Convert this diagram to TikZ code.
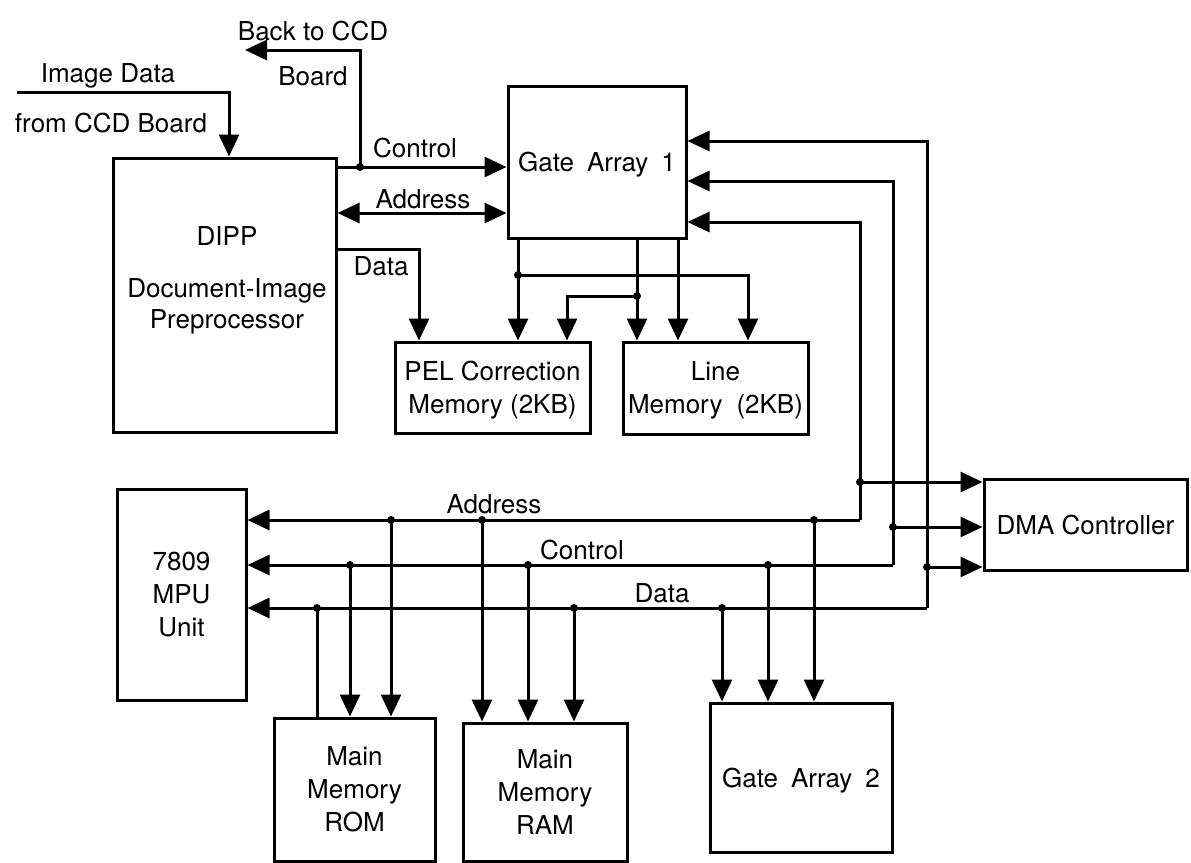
\documentclass[tikz,border=0pt]{standalone}
\usepackage{fontspec}
\setmainfont{TeX Gyre Heros}
\usetikzlibrary{arrows.meta,calc}

\newcommand\dgfont{\fontsize{13}{16.5}\selectfont}
\tikzset{
  blk/.style={draw, line width=1.5pt, inner sep=0pt, align=center, text depth=0pt},
  wire/.style={line width=1.5pt},
  arr/.style={wire, -{Triangle[length=11pt,width=10pt]}},
  darr/.style={wire, {Triangle[length=11pt,width=10pt]}-{Triangle[length=11pt,width=10pt]}},
  lbl/.style={anchor=base, inner sep=0pt},
}

\begin{document}
\begin{tikzpicture}[x=0.5pt, y=-0.5pt, font=\dgfont]
  \useasboundingbox (0,0) rectangle (1191,863);
  % Boxes
  \node[blk, minimum width=111.5pt, minimum height=137pt] (dipp) at (224.5,295) {};
  \node[align=center, font=\fontsize{13}{15.5}\selectfont] (dipptxt) at (227,280)
    {DIPP\\[10.5pt]Document-Image\\Preprocessor};
  \node[blk, minimum width=89pt, minimum height=76pt] (ga1) at (597,162) {Gate\enspace Array\enspace 1};
  \node[blk, minimum width=97.5pt, minimum height=45.5pt] (pel) at (492.5,387.5)
    {PEL Correction\\Memory (2KB)};
  \node[blk, minimum width=92.5pt, minimum height=46pt] (line) at (715.5,388) {Line\\Memory\hspace{7pt}(2KB)};
  \node[blk, minimum width=101.5pt, minimum height=45.5pt] (dma) at (1085.5,524.5) {DMA Controller};
  \node[blk, minimum width=64.5pt, minimum height=105.5pt] (mpu) at (181.5,594.5) {7809\\MPU\\Unit};
  \node[blk, minimum width=80.5pt, minimum height=71.5pt] (rom) at (354.5,789.5) {Main\\Memory\\ROM};
  \node[blk, minimum width=82pt, minimum height=69pt] (ram) at (545,792) {Main\\Memory\\RAM};
  \node[blk, minimum width=91pt, minimum height=74.5pt] (ga2) at (801,777.5) {Gate\enspace Array\enspace 2};
  % Labels
  \node[lbl] (backlbl) at (313,40) {Back to CCD};
  \node[lbl] (boardlbl) at (313,85) {Board};
  \node[lbl] (imglbl) at (108,82) {Image Data};
  \node[lbl] (fromlbl) at (111,132) {from CCD Board};
  \node[lbl] (ctllbl) at (415,157) {Control};
  \node[lbl] (adrlbl) at (423,208) {Address};
  \node[lbl] (datlbl) at (381,275) {Data};
  \node[lbl] (adrbuslbl) at (494,513) {Address};
  \node[lbl] (ctlbuslbl) at (582,559) {Control};
  \node[lbl] (datbuslbl) at (662,602) {Data};
  % DIPP links
  \coordinate (imgin) at (17,92);
  \draw[arr] (imgin) -| ($(dipp.north)+(4.5,0)$);
  \coordinate (ctlj) at (360,167);
  \coordinate (backtip) at (245,50);
  \draw[arr] (dipp.east |- ctlj) -- (ga1.west |- ctlj);
  \draw[arr] (ctlj) |- (backtip);
  \fill (ctlj) circle[radius=2pt];
  \coordinate (adrrow) at (0,213);
  \draw[darr] (dipp.east |- adrrow) -- (ga1.west |- adrrow);
  \coordinate (datturn) at (419,249);
  \draw[arr] (dipp.east |- datturn) -| (pel.north -| datturn);
  % Gate Array 1 to memories
  \coordinate (ja) at (518,275); \coordinate (ka) at (748,275);
  \coordinate (jb) at (637,296); \coordinate (kb) at (567,296);
  \coordinate (jc) at (678,296);
  \draw[arr] (ga1.south -| ja) -- (pel.north -| ja);
  \draw[arr] (ja) -| (line.north -| ka);
  \draw[arr] (ga1.south -| jb) -- (line.north -| jb);
  \draw[arr] (jb) -| (pel.north -| kb);
  \draw[arr] (ga1.south -| jc) -- (line.north -| jc);
  \fill (ja) circle[radius=2pt];
  \fill (jb) circle[radius=2pt];
  % Buses
  \coordinate (adrc) at (860,520); \coordinate (adrt) at (860,222); \coordinate (adrd) at (860,482);
  \coordinate (ctlc) at (893,565); \coordinate (ctlt) at (893,181); \coordinate (ctld) at (893,527);
  \coordinate (datc) at (927,608); \coordinate (datt) at (927,141); \coordinate (datd) at (927,567);
  \draw[arr] (adrc) -- (adrt) -- (ga1.east |- adrt);
  \draw[arr] (ctlc) -- (ctlt) -- (ga1.east |- ctlt);
  \draw[arr] (datc) -- (datt) -- (ga1.east |- datt);
  \draw[arr] (adrc) -- (mpu.east |- adrc);
  \draw[arr] (ctlc) -- (mpu.east |- ctlc);
  \draw[arr] (datc) -- (mpu.east |- datc);
  \draw[arr] (adrd) -- (dma.west |- adrd);
  \draw[arr] (ctld) -- (dma.west |- ctld);
  \draw[arr] (datd) -- (dma.west |- datd);
  \foreach \p in {adrd,ctld,datd} \fill (\p) circle[radius=2pt];
  % Drops to memories and Gate Array 2
  \foreach \x/\b in {391/rom,482/ram,814/ga2} {
    \fill (adrc -| \x,0) circle[radius=2pt];
    \draw[arr] (adrc -| \x,0) -- (\b.north -| \x,0);
  }
  \foreach \x/\b in {350/rom,528/ram,768/ga2} {
    \fill (ctlc -| \x,0) circle[radius=2pt];
    \draw[arr] (ctlc -| \x,0) -- (\b.north -| \x,0);
  }
  \foreach \x/\b in {574/ram,722/ga2} {
    \fill (datc -| \x,0) circle[radius=2pt];
    \draw[arr] (datc -| \x,0) -- (\b.north -| \x,0);
  }
  \fill (datc -| 317,0) circle[radius=2pt];
  \draw[wire] (datc -| 317,0) -- (rom.north -| 317,0);
\end{tikzpicture}
\end{document}
